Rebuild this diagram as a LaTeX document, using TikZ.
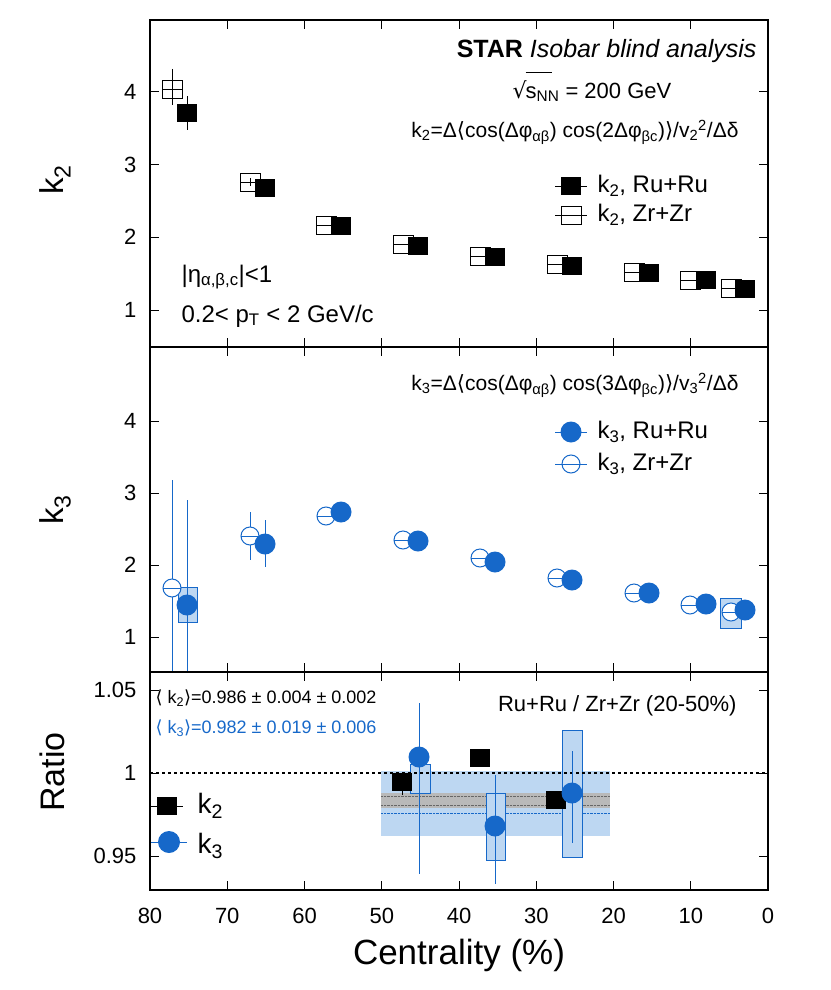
\documentclass[tikz,border=0pt]{standalone}
\usepackage{fontspec}
\setmainfont{Liberation Sans}
\newfontfamily\djsans{DejaVu Sans}
\newcommand{\sbs}[1]{\textsubscript{#1}}
\newcommand{\sps}[1]{\textsuperscript{#1}}
\newcommand{\myla}{{\djsans ⟨}}
\newcommand{\myra}{{\djsans ⟩}}
\definecolor{sb}{HTML}{1668C9}
\definecolor{lb}{HTML}{BDD7F2}
\begin{document}
\begin{tikzpicture}[x=1pt,y=-1pt,
 osq/.style={draw=black,line width=1pt,fill=white},
 oci/.style={draw=sb,line width=1pt,fill=white},
 eb/.style={line width=1pt},
 lab/.style={font=\fontsize{22}{25}\selectfont},
 leg/.style={font=\fontsize{24}{27}\selectfont},
 frm/.style={font=\fontsize{21}{24}\selectfont}]
\useasboundingbox (0,0) rectangle (830,990);
% top panel data
\foreach \x/\y in {172/89,250/182,326/225,403/244,480/256,557/264,634/272,690/280,731/288}{
 \draw[osq] (\x-10,\y-9) rectangle (\x+10,\y+9);
 \draw[eb] (\x-10,\y) -- (\x+10,\y);}
\draw[eb] (172,69)--(172,105); \draw[eb] (250,178)--(250,186);
\foreach \x/\y in {187/113,265/188,341/226,418/246,495/257,572/266,649/273,706/280,745/289}{
 \fill (\x-10,\y-9) rectangle (\x+10,\y+9);}
\draw[eb] (187,96)--(187,130);
% middle panel data
\draw[sb,fill=lb] (178,587) rectangle (197,622);
\draw[sb,fill=lb] (720,598) rectangle (741,628);
\draw[sb,line width=1pt] (172,480)--(172,672) (187,500)--(187,672);
\draw[sb,line width=1pt] (250,512)--(250,560) (265,520)--(265,567);
\foreach \x/\y in {172/588,250/536,326/516,403/540,480/558,557/578,634/593,690/605,731/612}{
 \draw[oci] (\x,\y) circle (9);
 \draw[sb,line width=0.8pt] (\x-9,\y)--(\x+9,\y);}
\foreach \x/\y in {187/605,265/544,341/512,418/541,495/562,572/580,649/593,706/604,745/610}{
 \fill[sb] (\x,\y) circle (10.5);}
% bottom panel
\fill[lb] (381,771) rectangle (610,836);
\fill[gray!55] (381,793) rectangle (610,808);
\draw[gray!80!black,densely dotted] (381,796)--(610,796) (381,805)--(610,805);
\draw[sb,densely dotted] (381,813)--(610,813);
\draw[sb,fill=lb] (410,764) rectangle (430,793);
\draw[sb,fill=lb] (486,793) rectangle (505,860);
\draw[sb,fill=lb] (562,730) rectangle (582,857);
\draw[dashed,line width=1.6pt] (150,773)--(768,773);
\draw[sb,line width=1pt] (419,703)--(419,874) (495,775)--(495,884) (572,751)--(572,843);
\draw[eb] (402,772)--(402,795) (480,752)--(480,766) (556,793)--(556,807);
\foreach \x/\y in {402/782,480/758,556/800}{\fill (\x-10,\y-9) rectangle (\x+10,\y+9);}
\foreach \x/\y in {419/757,495/826,572/793}{\fill[sb] (\x,\y) circle (10.5);}
% frames and ticks
\foreach \t/\b in {20/347,347/672,672/890}{
 \draw[line width=1.2pt] (150,\t) rectangle (768,\b);
 \foreach \c in {10,20,...,70}{
  \draw[line width=1pt] ({150+7.725*(80-\c)},\t)--++(0,9) ({150+7.725*(80-\c)},\b)--++(0,-9);}}
\foreach \k in {1,2,3,4}{
 \draw[line width=1pt] (150,{310-72.7*(\k-1)})--++(9,0) (768,{310-72.7*(\k-1)})--++(-9,0);
 \node[lab,anchor=east] at (140,{310-72.7*(\k-1)}) {\k};
 \draw[line width=1pt] (150,{637-72*(\k-1)})--++(9,0) (768,{637-72*(\k-1)})--++(-9,0);
 \node[lab,anchor=east] at (140,{637-72*(\k-1)}) {\k};}
\foreach \r/\l in {690/1.05,773/1,856/0.95}{
 \draw[line width=1pt] (150,\r)--++(9,0) (768,\r)--++(-9,0);
 \node[lab,anchor=east] at (140,\r) {\l};}
\foreach \c in {0,10,...,80}{\node[lab] at ({150+7.725*(80-\c)},916) {\c};}
% axis titles
\node[font=\fontsize{35}{38}\selectfont] at (459,955) {Centrality (\%)};
\node[font=\fontsize{33}{36}\selectfont,rotate=90] at (55,180) {k\sbs{2}};
\node[font=\fontsize{33}{36}\selectfont,rotate=90] at (55,510) {k\sbs{3}};
\node[font=\fontsize{34}{38}\selectfont,rotate=90] at (52,772) {Ratio};
% texts
\node[anchor=east,font=\fontsize{25}{28}\selectfont] at (760,51) {\textbf{STAR} \textit{Isobar blind analysis}};
\node[font=\fontsize{22}{25}\selectfont] at (592,87) {{\djsans √}\kern-1pt\rlap{\raisebox{2.2ex}{\rule{26pt}{0.8pt}}}s\sbs{NN} = 200 GeV};
\node[anchor=east,frm] at (742,132) {k\sbs{2}=Δ\myla cos(Δφ\sbs{αβ}) cos(2Δφ\sbs{βc})\myra/v\sbs{2}\sps{2}/Δδ};
\node[anchor=east,frm] at (742,385) {k\sbs{3}=Δ\myla cos(Δφ\sbs{αβ}) cos(3Δφ\sbs{βc})\myra/v\sbs{3}\sps{2}/Δδ};
\node[anchor=west,leg] at (178,277) {|η\sbs{α,β,c}|<1};
\node[anchor=west,leg] at (178,316) {0.2< p\sbs{T} < 2 GeV/c};
% legends
\fill (561,177) rectangle (581,195); \draw[eb] (555,186)--(587,186);
\node[anchor=west,leg] at (594,186) {k\sbs{2}, Ru+Ru};
\draw[osq] (561,206) rectangle (581,224); \draw[eb] (555,215)--(587,215);
\node[anchor=west,leg] at (594,215) {k\sbs{2}, Zr+Zr};
\fill[sb] (571,432) circle (10.5); \draw[sb,eb] (555,432)--(587,432);
\node[anchor=west,leg] at (594,432) {k\sbs{3}, Ru+Ru};
\draw[oci] (571,464) circle (9); \draw[sb,eb] (555,464)--(587,464);
\node[anchor=west,leg] at (594,464) {k\sbs{3}, Zr+Zr};
\node[anchor=east,font=\fontsize{22}{25}\selectfont] at (740,706) {Ru+Ru / Zr+Zr (20-50\%)};
\node[anchor=west,font=\fontsize{18}{21}\selectfont] at (152,698) {\myla\ k\sbs{2}\myra=0.986 ± 0.004 ± 0.002};
\node[anchor=west,font=\fontsize{18}{21}\selectfont,text=sb] at (152,728) {\myla\ k\sbs{3}\myra=0.982 ± 0.019 ± 0.006};
\fill (157,797) rectangle (177,815); \draw[eb] (151,806)--(183,806);
\node[anchor=west,font=\fontsize{28}{31}\selectfont] at (194,806) {k\sbs{2}};
\fill[sb] (169,842) circle (11); \draw[sb,eb] (151,842)--(187,842);
\node[anchor=west,font=\fontsize{28}{31}\selectfont] at (194,846) {k\sbs{3}};
\end{tikzpicture}
\end{document}
